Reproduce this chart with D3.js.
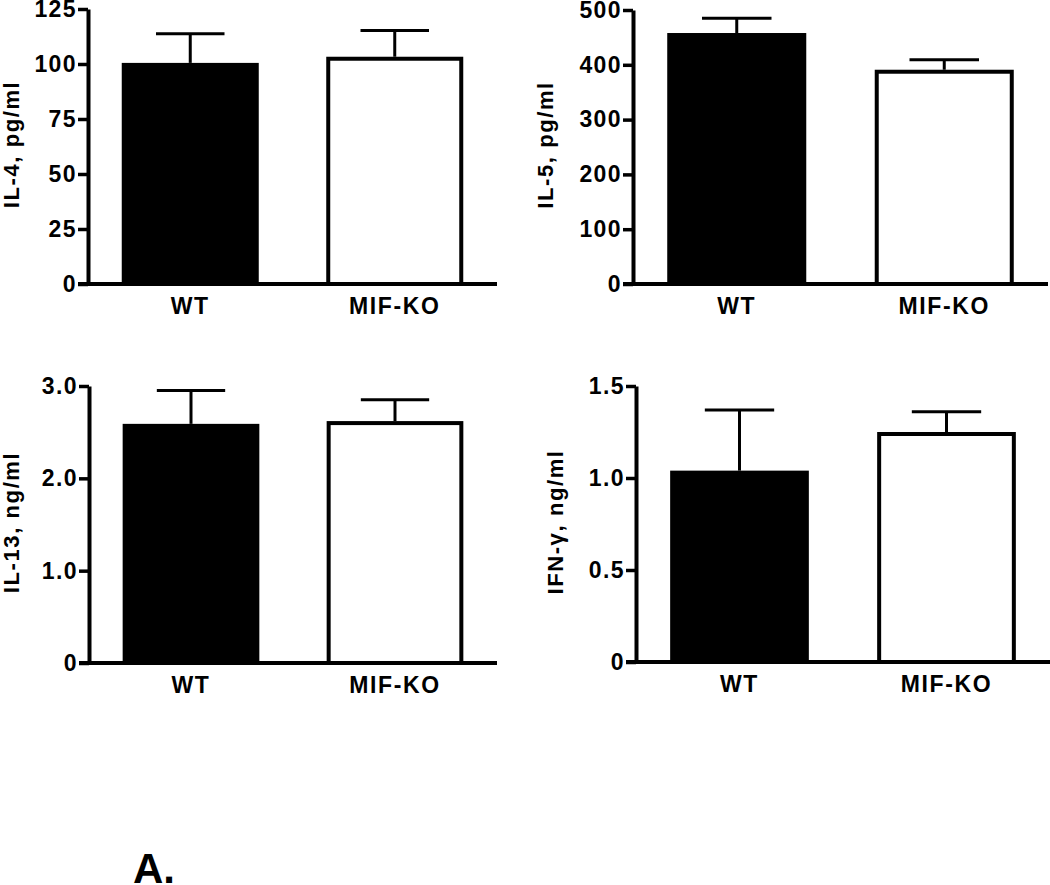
<!DOCTYPE html>
<html>
<head>
<meta charset="utf-8">
<script src="https://cdn.jsdelivr.net/npm/d3@7"></script>
<style>
  body { margin: 0; background: #fff; }
  svg { display: block; font-family: "Liberation Sans", Arial, sans-serif; font-weight: bold; }
</style>
</head>
<body>
<div id="chart"></div>
<script>
// groups on the x axis
const groups = ["WT", "MIF-KO"];

// means and error (SEM)
const il4Mean = [100.5, 103.3];
const il4Err = [13.2, 11.9];
const il5Mean = [458, 391];
const il5Err = [27, 18];
const il13Mean = [2.59, 2.62];
const il13Err = [0.36, 0.23];
const ifngMean = [1.04, 1.25];
const ifngErr = [0.33, 0.11];

// tick values
const il4Ticks = [0, 25, 50, 75, 100, 125];
const il5Ticks = [0, 100, 200, 300, 400, 500];
const il13Ticks = [0, 1, 2, 3];
const ifngTicks = [0, 0.5, 1, 1.5];

const fmtInt = d => d3.format("d")(d);
const fmtDec = d => d === 0 ? "0" : d3.format(".1f")(d);

const panels = [
  { label: "IL-4, pg/ml", mean: il4Mean, err: il4Err, ticks: il4Ticks, fmt: fmtInt,
    ax: 88, top: 9, bottom: 284, right: 497, labelX: 19 },
  { label: "IL-5, pg/ml", mean: il5Mean, err: il5Err, ticks: il5Ticks, fmt: fmtInt,
    ax: 633, top: 10, bottom: 284, right: 1048, labelX: 553 },
  { label: "IL-13, ng/ml", mean: il13Mean, err: il13Err, ticks: il13Ticks, fmt: fmtDec,
    ax: 89, top: 386, bottom: 663, right: 497, labelX: 19 },
  { label: "IFN-\u03b3, ng/ml", mean: ifngMean, err: ifngErr, ticks: ifngTicks, fmt: fmtDec,
    ax: 636, top: 386, bottom: 662, right: 1050, labelX: 563 }
];

const width = 1050;
const height = 885;

const svg = d3.select("#chart").append("svg")
  .attr("width", width).attr("height", height);

panels.forEach(p => {
  const g = svg.append("g");

  const x = d3.scaleBand()
    .domain(groups)
    .range([p.ax, p.right])
    .paddingInner(0.33)
    .paddingOuter(0.165);

  const y = d3.scaleLinear()
    .domain([0, d3.max(p.ticks)])
    .range([p.bottom, p.top]);

  const rows = groups.map((name, i) => ({ name, mean: p.mean[i], err: p.err[i], i }));

  // error bars (drawn first so bar tops cover the stem)
  const eb = g.append("g").attr("stroke", "#000").attr("stroke-width", 3);
  eb.selectAll("line.stem").data(rows).join("line")
    .attr("class", "stem")
    .attr("x1", d => x(d.name) + x.bandwidth() / 2)
    .attr("x2", d => x(d.name) + x.bandwidth() / 2)
    .attr("y1", d => y(d.mean))
    .attr("y2", d => y(d.mean + d.err));
  eb.selectAll("line.cap").data(rows).join("line")
    .attr("class", "cap")
    .attr("x1", d => x(d.name) + x.bandwidth() * 0.25)
    .attr("x2", d => x(d.name) + x.bandwidth() * 0.75)
    .attr("y1", d => y(d.mean + d.err))
    .attr("y2", d => y(d.mean + d.err));

  // bars
  g.selectAll("rect.bar").data(rows).join("rect")
    .attr("class", "bar")
    .attr("x", d => x(d.name) + 2)
    .attr("width", x.bandwidth() - 4)
    .attr("y", d => y(d.mean) + 2)
    .attr("height", d => y(0) - y(d.mean) - 2)
    .attr("fill", d => d.i === 0 ? "#000" : "#fff")
    .attr("stroke", "#000")
    .attr("stroke-width", 4);

  // y axis
  const yAxis = g.append("g")
    .attr("transform", `translate(${p.ax},0)`)
    .call(d3.axisLeft(y).tickValues(p.ticks).tickFormat(p.fmt).tickSize(10).tickSizeOuter(0).tickPadding(1));
  yAxis.select(".domain").attr("stroke-width", 4);
  yAxis.selectAll(".tick line").attr("stroke-width", 3.5);
  yAxis.selectAll(".tick text")
    .attr("font-size", 23)
    .attr("letter-spacing", 1.4)
    .attr("font-weight", "bold")
    .attr("font-family", "'Liberation Sans', Arial, sans-serif")
    .attr("fill", "#000");

  // x baseline
  g.append("line")
    .attr("x1", p.ax - 10).attr("x2", p.right)
    .attr("y1", y(0)).attr("y2", y(0))
    .attr("stroke", "#000").attr("stroke-width", 4);

  // group labels
  g.selectAll("text.grp").data(rows).join("text")
    .attr("class", "grp")
    .attr("x", d => x(d.name) + x.bandwidth() / 2)
    .attr("y", y(0) + 30)
    .attr("text-anchor", "middle")
    .attr("font-size", 23)
    .attr("letter-spacing", 1.6)
    .text(d => d.name);

  // y label
  g.append("text")
    .attr("transform", `translate(${p.labelX},${(p.top + p.bottom) / 2 - 2}) rotate(-90)`)
    .attr("text-anchor", "middle")
    .attr("font-size", 22)
    .attr("letter-spacing", 1.6)
    .text(p.label);
});

svg.append("text")
  .attr("x", 133).attr("y", 883)
  .attr("font-size", 42)
  .text("A.");
</script>
</body>
</html>
